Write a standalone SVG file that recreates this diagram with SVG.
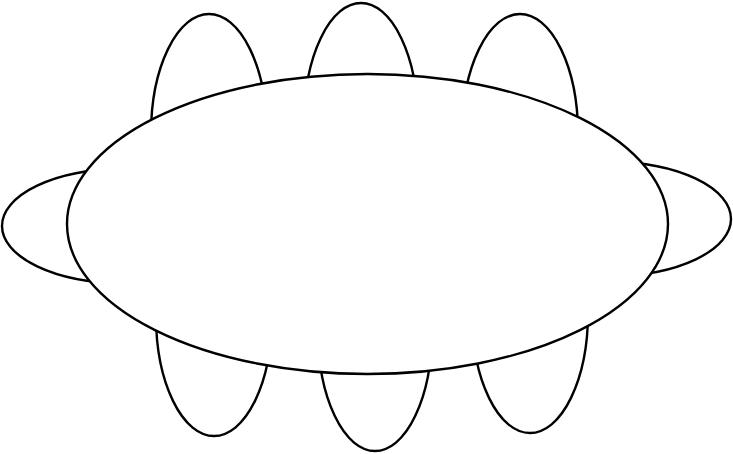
<svg xmlns="http://www.w3.org/2000/svg" width="733" height="454" viewBox="0 0 733 454">
<style>
ellipse { fill: #ffffff; stroke: #000000; stroke-width: 2.4; }
</style>
<rect width="733" height="454" fill="#ffffff"/>
<g id="petal-top-1"><ellipse cx="209" cy="134" rx="58" ry="120"/></g>
<g id="petal-top-2"><ellipse cx="361" cy="123" rx="57" ry="120"/></g>
<g id="petal-top-3"><ellipse cx="520" cy="134" rx="58" ry="120"/></g>
<g id="petal-bottom-1"><ellipse cx="214" cy="316" rx="58" ry="120"/></g>
<g id="petal-bottom-2"><ellipse cx="375" cy="331" rx="57" ry="120"/></g>
<g id="petal-bottom-3"><ellipse cx="530" cy="313" rx="58" ry="120"/></g>
<g id="petal-left"><ellipse cx="122" cy="226" rx="120" ry="57"/></g>
<g id="petal-right"><ellipse cx="611" cy="219" rx="120" ry="57"/></g>
<g id="body"><ellipse cx="367.5" cy="224" rx="300.5" ry="150"/></g>
<g id="connectors"></g>
</svg>
